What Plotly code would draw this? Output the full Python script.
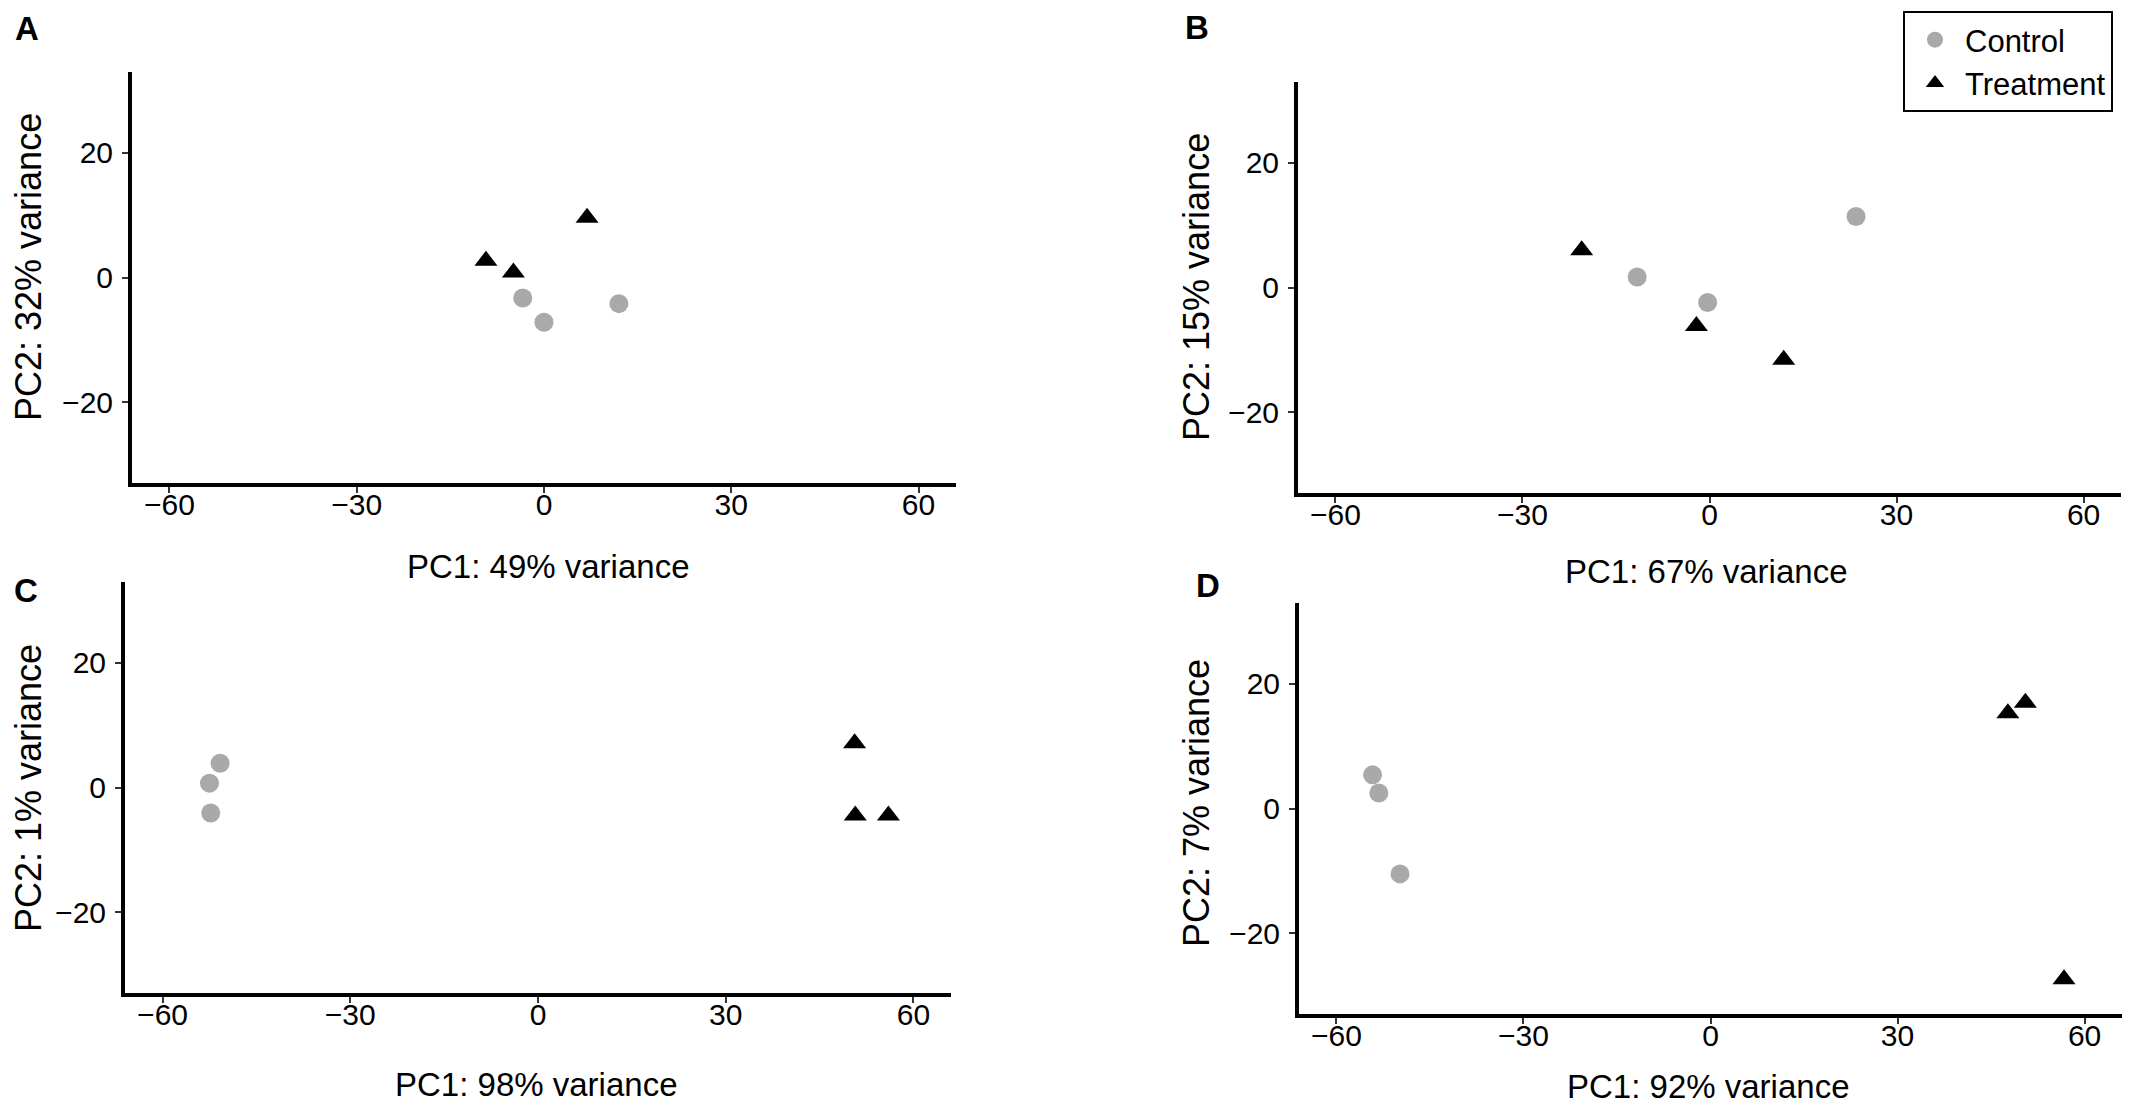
import plotly.graph_objects as go

W, H = 2132, 1101

# panel A
a_ctrl_pc1 = [-3.4, 0.0, 12.0]
a_ctrl_pc2 = [-3.3, -7.2, -4.2]
a_trt_pc1 = [-9.3, -4.9, 6.9]
a_trt_pc2 = [2.7, 0.8, 9.6]

# panel B
b_ctrl_pc1 = [-11.6, -0.3, 23.5]
b_ctrl_pc2 = [1.7, -2.4, 11.4]
b_trt_pc1 = [-20.5, -2.1, 11.9]
b_trt_pc2 = [6.0, -6.2, -11.6]

# panel C
c_ctrl_pc1 = [-50.8, -52.5, -52.3]
c_ctrl_pc2 = [3.9, 0.7, -4.1]
c_trt_pc1 = [50.6, 50.7, 56.0]
c_trt_pc2 = [7.1, -4.5, -4.5]

# panel D
d_ctrl_pc1 = [-54.2, -53.2, -49.8]
d_ctrl_pc2 = [5.4, 2.5, -10.5]
d_trt_pc1 = [47.7, 50.5, 56.7]
d_trt_pc2 = [15.3, 17.0, -27.4]

panel_letters = ["A", "B", "C", "D"]
pc1_labels = ["PC1: 49% variance", "PC1: 67% variance", "PC1: 98% variance", "PC1: 92% variance"]
pc2_labels = ["PC2: 32% variance", "PC2: 15% variance", "PC2: 1% variance", "PC2: 7% variance"]
x_ticks = [-60, -30, 0, 30, 60]
y_ticks = [-20, 0, 20]

panels = [
    (a_ctrl_pc1, a_ctrl_pc2, a_trt_pc1, a_trt_pc2),
    (b_ctrl_pc1, b_ctrl_pc2, b_trt_pc1, b_trt_pc2),
    (c_ctrl_pc1, c_ctrl_pc2, c_trt_pc1, c_trt_pc2),
    (d_ctrl_pc1, d_ctrl_pc2, d_trt_pc1, d_trt_pc2),
]

# pixel boxes of each panel: left, right, top, bottom
boxes = [(124, 948, 64, 475), (1290, 2113, 74, 485),
         (117, 943, 574, 985), (1291, 2114, 595, 1006)]
letter_pos = [(19, 20), (1189, 19), (18, 582), (1200, 577)]
xtitle_pos = [(540, 559), (1698, 563), (528, 1076), (1700, 1078)]
ytitle_pos = [(20, 259), (1188, 279), (20, 780), (1188, 795)]

FONT = "Arial, Liberation Sans, sans-serif"
GREY = "#a9a9a9"

fig = go.Figure()
layout = {}
annotations = []


def note(text, px, py, size, angle=0):
    return dict(text=text, x=px / W, y=1 - py / H, xref="paper", yref="paper",
                xanchor="center", yanchor="middle", showarrow=False, textangle=angle,
                font=dict(size=size, color="black", family=FONT))


for i, (cx, cy, tx, ty) in enumerate(panels):
    n = "" if i == 0 else str(i + 1)
    fig.add_trace(go.Scatter(
        x=cx, y=cy, mode="markers", name="Control",
        showlegend=(i == 0), xaxis="x" + n, yaxis="y" + n,
        marker=dict(symbol="circle", size=19, color=GREY),
    ))
    fig.add_trace(go.Scatter(
        x=tx, y=ty, mode="markers", name="Treatment",
        showlegend=(i == 0), xaxis="x" + n, yaxis="y" + n,
        marker=dict(symbol="triangle-up", size=20, color="black"),
    ))

    l, r, t, b = boxes[i]
    common = dict(showline=True, linewidth=4, linecolor="black", showgrid=False,
                  zeroline=False, ticks="outside", ticklen=6, tickwidth=2,
                  tickcolor="#333333", tickfont=dict(size=30, color="black", family=FONT))
    layout["xaxis" + n] = dict(common, domain=[l / W, r / W], anchor="y" + n,
                               range=[-66, 66], tickvals=x_ticks, ticklabelstandoff=-14)
    layout["yaxis" + n] = dict(common, domain=[1 - b / H, 1 - t / H], anchor="x" + n,
                               range=[-33, 33], tickvals=y_ticks, ticklabelstandoff=3)

    annotations.append(note("<b>" + panel_letters[i] + "</b>", *letter_pos[i], 33))
    annotations.append(note(pc1_labels[i], *xtitle_pos[i], 33))
    annotations.append(note(pc2_labels[i], *ytitle_pos[i], 36, angle=-90))

fig.update_layout(
    width=W, height=H, autosize=False,
    margin=dict(l=0, r=0, t=0, b=0),
    paper_bgcolor="white", plot_bgcolor="white",
    annotations=annotations,
    legend=dict(x=1895 / W, y=1 - 3 / H, xanchor="left", yanchor="top",
                bordercolor="black", borderwidth=2, bgcolor="white",
                tracegroupgap=0, itemwidth=50,
                font=dict(size=31, color="black", family=FONT)),
    **layout,
)

fig.write_html("out.html")
